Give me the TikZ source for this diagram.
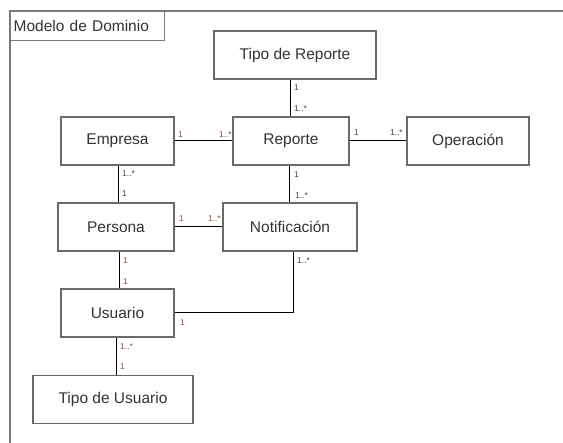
\documentclass[tikz,border=0pt]{standalone}
\usepackage{fontspec}
\setmainfont{Liberation Sans}
\definecolor{boxgray}{HTML}{6A6A6A}
\definecolor{framegray}{HTML}{7A7A7A}
\definecolor{txtgray}{HTML}{333333}
\definecolor{mulred}{HTML}{9A4A3A}
\definecolor{muldark}{HTML}{4A4038}
\begin{document}
\begin{tikzpicture}[x=1pt,y=-1pt,
  cls/.style={draw=boxgray, line width=1.6pt, fill=white, inner sep=0pt,
    minimum height=48pt, text=txtgray, font=\fontsize{15.5}{18}\selectfont},
  conn/.style={draw=black, line width=1pt},
  mul/.style={font=\fontsize{8.5}{10}\selectfont, inner sep=0pt, text=muldark},
  mulr/.style={mul, text=mulred}]
\useasboundingbox (0,0) rectangle (563,443);
% frame
\draw[framegray, line width=1.4pt] (10,443) -- (10,11) -- (563,11);
\node[draw=framegray, line width=1.4pt, minimum width=154pt, minimum height=29pt,
  inner sep=0pt, anchor=north west, text=txtgray, font=\fontsize{15.5}{18}\selectfont,
  text width=148pt, align=left] (frame) at (10,11) {Modelo de Dominio};
% classes
\node[cls, minimum width=162pt] (trep) at (295,55) {Tipo de Reporte};
\node[cls, minimum width=113pt] (emp) at (117.5,141) {Empresa};
\node[cls, minimum width=116pt] (rep) at (291,141) {Reporte};
\node[cls, minimum width=122pt] (op) at (468,141) {Operación};
\node[cls, minimum width=116pt] (per) at (116,227) {Persona};
\node[cls, minimum width=134pt] (notif) at (290,227) {Notificación};
\node[cls, minimum width=113pt] (usu) at (117.5,313) {Usuario};
\node[cls, minimum width=160pt] (tu) at (113,399.5) {Tipo de Usuario};
% connectors
\draw[conn] (emp.east) -- (rep.west);
\draw[conn] ([xshift=-1pt]rep.north) -- ([xshift=-1pt]rep.north |- trep.south);
\draw[conn] (rep.east) -- (op.west);
\draw[conn] ([xshift=-1pt]notif.north) -- ([xshift=-1pt]notif.north |- rep.south);
\draw[conn] ([xshift=0.5pt]emp.south) -- ([xshift=0.5pt]emp.south |- per.north);
\draw[conn] (per.east) -- (notif.west);
\draw[conn] ([xshift=3pt]per.south) -- ([xshift=3pt]per.south |- usu.north);
\draw[conn] (usu.east) -| ([xshift=3pt]notif.south);
\draw[conn] ([xshift=3pt]tu.north) -- ([xshift=3pt]tu.north |- usu.south);
% multiplicities
\node[mulr, anchor=west] (m1) at (178,135) {1};
\node[mulr, anchor=east] (m2) at (232,135) {1..*};
\node[mul, anchor=west] (m3) at (294,88) {1};
\node[mul, anchor=west] (m4) at (294,109) {1..*};
\node[mul, anchor=west] (m5) at (354,133) {1};
\node[mul, anchor=east] (m6) at (403,133) {1..*};
\node[mul, anchor=west] (m7) at (294,175) {1};
\node[mul, anchor=west] (m8) at (295,196) {1..*};
\node[mul, anchor=west] (m9) at (122,174) {1..*};
\node[mul, anchor=west] (m10) at (122,194) {1};
\node[mulr, anchor=west] (m11) at (179,219) {1};
\node[mulr, anchor=east] (m12) at (221,219) {1..*};
\node[mulr, anchor=west] (m13) at (123,261) {1};
\node[mulr, anchor=west] (m14) at (123,282) {1};
\node[mul, anchor=west] (m15) at (297,261) {1..*};
\node[mulr, anchor=west] (m16) at (180,323) {1};
\node[mulr, anchor=west] (m17) at (120,347) {1..*};
\node[mulr, anchor=west] (m18) at (120,367) {1};
\end{tikzpicture}
\end{document}
